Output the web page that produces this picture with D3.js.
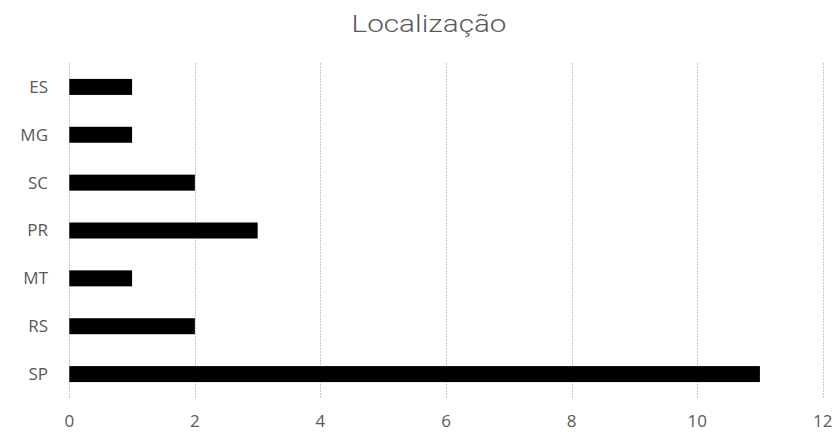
<!DOCTYPE html>
<html lang="pt">
<head>
    <meta charset="UTF-8">
    <script src="https://d3js.org/d3.v7.min.js"></script>
    <style>
        body, html {
            margin: 0;
            width: 100%;
            height: 100%;
            overflow: hidden;
            background: #fff;
        }
        .grid line {
            stroke: #c8c8c8;
            stroke-width: 1px;
            stroke-dasharray: 2,1;
        }
        .tick-label {
            font-family: "Open Sans", sans-serif;
            fill: #595959;
        }
    </style>
</head>
<body>
    <div id="chart"></div>
    <script>
        // dados
        const estados = ["ES", "MG", "SC", "PR", "MT", "RS", "SP"];
        const quantidades = [1, 1, 2, 3, 1, 2, 11];
        const xTicks = [0, 2, 4, 6, 8, 10, 12];
        const titulo = "Localização";

        const W = 835, H = 432;
        const margem = {left: 69.3, right: 822.7, top: 63, bottom: 398};

        const svg = d3.select("#chart")
            .append("svg")
            .attr("width", W)
            .attr("height", H);

        const x = d3.scaleLinear()
            .domain([0, 12])
            .range([margem.left, margem.right]);

        const y = d3.scaleBand()
            .domain(estados)
            .range([margem.top, margem.bottom])
            .paddingInner(0.666)
            .paddingOuter(0.333);

        // linhas de grade verticais
        svg.append("g")
            .attr("class", "grid")
            .selectAll("line")
            .data(xTicks)
            .enter()
            .append("line")
            .attr("x1", d => Math.round(x(d)) + 0.5)
            .attr("x2", d => Math.round(x(d)) + 0.5)
            .attr("y1", margem.top)
            .attr("y2", margem.bottom);

        // barras
        svg.selectAll(".bar")
            .data(estados.map((e, i) => ({estado: e, valor: quantidades[i]})))
            .enter()
            .append("rect")
            .attr("class", "bar")
            .attr("x", x(0))
            .attr("y", d => y(d.estado))
            .attr("width", d => x(d.valor) - x(0))
            .attr("height", y.bandwidth())
            .attr("fill", "#000");

        // rótulos do eixo y
        svg.selectAll(".ylab")
            .data(estados)
            .enter()
            .append("text")
            .attr("class", "tick-label")
            .attr("x", 48)
            .attr("y", d => y(d) + y.bandwidth() / 2)
            .attr("dy", "0.35em")
            .attr("text-anchor", "end")
            .style("font-size", "17px")
            .text(d => d);

        // rótulos do eixo x
        svg.selectAll(".xlab")
            .data(xTicks)
            .enter()
            .append("text")
            .attr("class", "tick-label")
            .attr("x", d => x(d))
            .attr("y", 427)
            .attr("text-anchor", "middle")
            .style("font-size", "17px")
            .text(d => d);

        // título
        svg.append("text")
            .attr("x", 429)
            .attr("y", 32)
            .attr("text-anchor", "middle")
            .attr("textLength", 155)
            .attr("lengthAdjust", "spacingAndGlyphs")
            .style("font-family", "Roboto, 'Liberation Sans', sans-serif")
            .style("font-weight", 300)
            .style("font-size", "24px")
            .style("fill", "#595959")
            .text(titulo);
    </script>
</body>
</html>
